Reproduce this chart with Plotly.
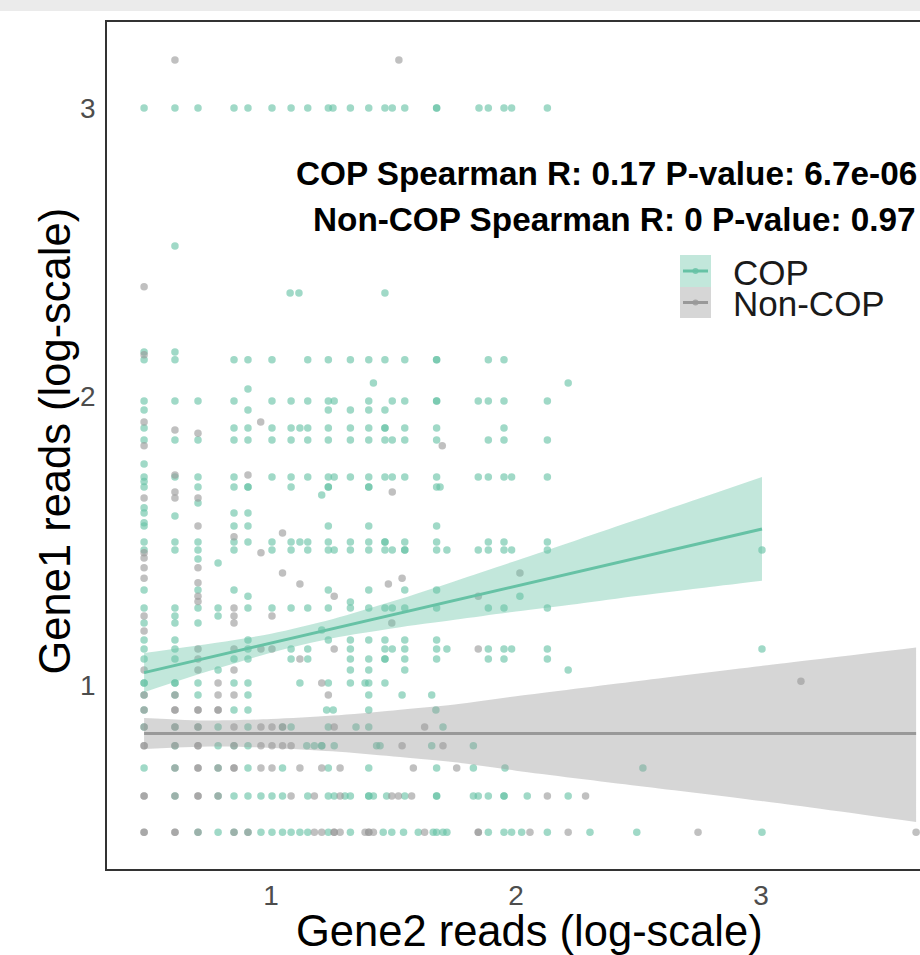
import plotly.graph_objects as go

# ---------------- data (log10 read counts) ----------------
cop_levels = [3.000, 2.522, 2.359, 2.154, 2.127, 2.047, 2.026, 1.984, 1.953, 1.891, 1.849, 1.766,
              1.721, 1.705, 1.686, 1.659, 1.631, 1.614, 1.596, 1.586, 1.562, 1.551, 1.496, 1.468,
              1.437, 1.423, 1.329, 1.308, 1.288, 1.267, 1.239, 1.215, 1.191, 1.156, 1.125, 1.090,
              1.052, 1.007, 0.965, 0.913, 0.854, 0.789, 0.712, 0.615, 0.490]
cop_xs = [
    [0.482, 0.608, 0.702, 0.849, 0.906, 1.004, 1.082, 1.150, 1.234, 1.253, 1.324, 1.399, 1.465, 1.495, 1.546, 1.676, 1.676, 1.849, 1.887, 1.951, 1.982, 2.128],
    [0.608],
    [1.078, 1.114, 1.465],
    [0.482, 0.608],
    [0.482, 0.608, 0.849, 0.906, 1.004, 1.150, 1.234, 1.324, 1.399, 1.465, 1.546, 1.676, 1.676, 1.887, 1.951],
    [1.418, 2.213],
    [0.906],
    [0.482, 0.608, 0.702, 0.849, 1.004, 1.082, 1.150, 1.234, 1.258, 1.399, 1.495, 1.546, 1.676, 1.676, 1.846, 1.887, 1.951, 2.128],
    [0.482, 0.906, 1.234, 1.324, 1.399, 1.465],
    [0.482, 0.849, 0.906, 1.004, 1.082, 1.118, 1.150, 1.234, 1.324, 1.399, 1.465, 1.465, 1.546, 1.676, 1.951],
    [0.482, 0.608, 0.702, 0.849, 0.906, 1.004, 1.082, 1.150, 1.234, 1.324, 1.399, 1.465, 1.495, 1.546, 1.676, 1.887, 1.951, 2.128],
    [0.482],
    [0.482, 0.608, 0.702, 0.849, 1.004, 1.082, 1.150, 1.234, 1.258, 1.324, 1.399, 1.465, 1.495, 1.546, 1.676, 1.846, 1.887, 1.951, 1.982, 2.128],
    [0.482],
    [0.482, 0.702, 0.849, 0.906, 0.906, 1.082, 1.234, 1.234, 1.399, 1.399, 1.676, 1.690],
    [1.207],
    [0.702],
    [0.482],
    [0.482, 0.849, 0.906],
    [0.608],
    [0.482],
    [0.482, 0.849, 0.906, 1.234, 1.399, 1.676],
    [0.482, 0.608, 0.702, 0.849, 0.906, 1.004, 1.082, 1.118, 1.150, 1.234, 1.324, 1.399, 1.465, 1.465, 1.546, 1.676, 1.887, 1.951, 2.128],
    [0.482, 0.608, 0.702, 0.849, 1.004, 1.082, 1.150, 1.234, 1.258, 1.324, 1.399, 1.465, 1.495, 1.546, 1.546, 1.676, 1.718, 1.846, 1.887, 1.951, 1.982, 2.128, 3.004],
    [0.702],
    [0.784],
    [0.482, 0.702, 0.849, 1.234, 1.399, 1.546, 1.676],
    [0.906, 2.016],
    [1.324],
    [0.482, 0.608, 0.702, 0.784, 0.906, 1.004, 1.082, 1.150, 1.234, 1.324, 1.399, 1.465, 1.495, 1.546, 1.676, 1.887, 1.951, 2.128],
    [0.608, 0.784],
    [0.482, 0.608, 0.702],
    [1.207],
    [0.482, 0.608, 0.906, 1.234, 1.324, 1.399, 1.465, 1.546, 1.676],
    [0.482, 0.608, 0.906, 1.082, 1.150, 1.324, 1.465, 1.495, 1.546, 1.676, 1.718, 1.887, 1.951, 1.982, 2.128, 3.004],
    [0.482, 0.608, 0.849, 0.906, 1.082, 1.150, 1.324, 1.399, 1.465, 1.465, 1.546, 1.676, 1.887, 1.951, 2.128],
    [0.784, 1.324, 1.399, 1.546, 2.213],
    [0.482, 0.482, 0.608, 0.608, 0.702, 0.849, 0.906, 1.118, 1.234, 1.324, 1.384, 1.399, 1.465],
    [0.482, 0.608, 0.702, 0.906, 1.399, 1.535, 1.656],
    [0.482, 0.849, 0.906, 1.227, 1.254, 1.399, 1.673],
    [0.482, 0.608, 0.702, 0.784, 0.906, 1.047, 1.082, 1.234, 1.347, 1.399, 1.702],
    [0.608, 0.784, 0.849, 0.906, 1.146, 1.177, 1.207, 1.207, 1.258, 1.431, 1.445, 1.656, 1.826],
    [0.482, 0.608, 0.784, 0.906, 1.047, 1.234, 1.399, 1.676, 1.826, 1.955, 2.518],
    [0.608, 0.784, 0.849, 0.906, 0.959, 1.004, 1.047, 1.150, 1.234, 1.258, 1.302, 1.324, 1.399, 1.399, 1.418, 1.472, 1.546, 1.676, 1.676, 1.826, 1.846, 1.887, 1.951, 1.951, 2.046, 2.213],
    [0.702, 0.784, 0.849, 0.906, 0.959, 1.004, 1.047, 1.082, 1.118, 1.150, 1.234, 1.324, 1.458, 1.493, 1.541, 1.601, 1.662, 1.676, 1.702, 1.718, 1.887, 1.951, 1.982, 2.023, 2.128, 2.302, 2.493, 3.004],
]

non_levels = [3.166, 2.380, 2.145, 1.912, 1.884, 1.873, 1.829, 1.728, 1.669, 1.648, 1.551, 1.527,
              1.514, 1.458, 1.440, 1.406, 1.388, 1.370, 1.354, 1.350, 1.308, 1.289, 1.267, 1.239,
              1.215, 1.187, 1.125, 1.090, 1.052, 1.013, 1.007, 0.965, 0.913, 0.854, 0.789, 0.712,
              0.615, 0.490]
non_xs = [
    [0.608, 1.522],
    [0.482],
    [0.482],
    [0.482, 0.958],
    [0.608],
    [0.702],
    [0.482, 1.699],
    [0.608, 0.906],
    [0.608, 1.495],
    [0.482, 0.608, 0.702],
    [0.702],
    [1.047],
    [0.849],
    [0.482, 0.959],
    [0.482],
    [0.482, 0.702],
    [1.047, 2.016],
    [0.482, 1.535],
    [0.702],
    [1.118, 1.479],
    [0.702, 1.258, 1.846],
    [0.702],
    [0.849],
    [0.482, 0.849, 1.004],
    [0.849, 1.493],
    [0.482],
    [0.702, 0.849, 0.959, 1.004, 1.258, 1.846],
    [0.702, 1.118],
    [0.482, 0.702, 0.849],
    [3.163],
    [0.784, 1.207],
    [0.482, 0.608, 0.784, 0.849, 1.234],
    [0.482, 0.608, 0.608, 0.702, 0.702, 0.784, 0.784],
    [0.482, 0.608, 0.702, 0.849, 0.959, 1.004, 1.047, 1.258, 1.627],
    [0.482, 0.482, 0.608, 0.702, 0.702, 0.849, 0.959, 1.004, 1.047, 1.082, 1.535, 1.702],
    [0.608, 0.702, 0.702, 0.784, 0.849, 0.849, 0.959, 1.004, 1.118, 1.207, 1.282, 1.581, 1.758],
    [0.482, 0.482, 0.608, 0.702, 0.702, 0.784, 1.082, 1.177, 1.282, 1.493, 1.520, 1.574, 2.128, 2.284],
    [0.482, 0.482, 0.608, 0.608, 0.702, 0.849, 0.906, 1.177, 1.207, 1.258, 1.258, 1.282, 1.384, 1.399, 1.399, 1.418, 1.627, 1.846, 1.846, 2.057, 2.213, 2.743, 3.633],
]

# linear-fit lines and 95% bands
cop_fit_x = [0.482, 0.75, 1.0, 1.25, 1.5, 1.75, 2.0, 2.25, 2.5, 2.75, 3.004]
cop_fit_y = [1.043, 1.096, 1.145, 1.195, 1.244, 1.293, 1.343, 1.392, 1.442, 1.491, 1.541]
cop_fit_lo = [0.975, 1.049, 1.112, 1.162, 1.197, 1.226, 1.255, 1.281, 1.309, 1.335, 1.361]
cop_fit_hi = [1.111, 1.143, 1.178, 1.228, 1.291, 1.360, 1.431, 1.503, 1.575, 1.647, 1.721]

non_fit_x = [0.482, 0.75, 1.0, 1.25, 1.5, 1.75, 2.0, 2.5, 3.0, 3.633]
non_fit_y = [0.832, 0.832, 0.832, 0.832, 0.832, 0.832, 0.832, 0.832, 0.832, 0.832]
non_fit_lo = [0.778, 0.787, 0.782, 0.770, 0.752, 0.732, 0.703, 0.650, 0.598, 0.525]
non_fit_hi = [0.886, 0.877, 0.882, 0.894, 0.912, 0.932, 0.961, 1.014, 1.066, 1.130]

cop_text = "COP Spearman R: 0.17 P-value: 6.7e-06"
non_text = "Non-COP Spearman R: 0 P-value: 0.97"
legend_labels = ["COP", "Non-COP"]
x_title = "Gene2 reads (log-scale)"
y_title = "Gene1 reads (log-scale)"
tick_vals = [1, 2, 3]
tick_text = ["1", "2", "3"]

# ---------------- styling / layout ----------------
COP_COL = "#66c2a5"
NON_COL = "#999999"
W, H = 920, 955
# plot box in page pixels: left 107, top 22, bottom 869, right = window edge
L, T = 107, 22
B = H - 869
R = 0
PW, PH = W - L - R, H - T - B

# axis calibration (page pixel -> data)
XPX1, XPX_UNIT = 271, 245.0
YPX1, YPX_UNIT = 685, 288.5
x_range = [1 + (L - XPX1) / XPX_UNIT, 1 + (W - XPX1) / XPX_UNIT]
y_range = [1 + (YPX1 - (H - B)) / YPX_UNIT, 1 + (YPX1 - T) / YPX_UNIT]


def px_x(px):
    # page x pixel -> paper coordinate
    return (px - L) / PW


def px_y(py):
    # page y pixel -> paper coordinate
    return (H - B - py) / PH


def flatten(levels, xs):
    fx, fy = [], []
    for lv, row in zip(levels, xs):
        for v in row:
            fx.append(v)
            fy.append(lv)
    return fx, fy


cop_x, cop_y = flatten(cop_levels, cop_xs)
non_x, non_y = flatten(non_levels, non_xs)

fig = go.Figure()
fig.add_trace(go.Scatter(x=cop_x, y=cop_y, mode="markers",
                         marker=dict(color=COP_COL, size=7.5, opacity=0.62, line=dict(width=0)),
                         showlegend=False, cliponaxis=False))
fig.add_trace(go.Scatter(x=non_x, y=non_y, mode="markers",
                         marker=dict(color=NON_COL, size=7.5, opacity=0.62, line=dict(width=0)),
                         showlegend=False, cliponaxis=False))


def add_band(xs, lo, hi, fillcol):
    fig.add_trace(go.Scatter(x=xs, y=lo, mode="lines",
                             line=dict(width=0, shape="spline", smoothing=0.8),
                             hoverinfo="skip", showlegend=False))
    fig.add_trace(go.Scatter(x=xs, y=hi, mode="lines",
                             line=dict(width=0, shape="spline", smoothing=0.8),
                             fill="tonexty", fillcolor=fillcol, hoverinfo="skip",
                             showlegend=False))


add_band(cop_fit_x, cop_fit_lo, cop_fit_hi, "rgba(102,194,165,0.4)")
fig.add_trace(go.Scatter(x=cop_fit_x, y=cop_fit_y, mode="lines",
                         line=dict(color=COP_COL, width=3), showlegend=False))
add_band(non_fit_x, non_fit_lo, non_fit_hi, "rgba(153,153,153,0.4)")
fig.add_trace(go.Scatter(x=non_fit_x, y=non_fit_y, mode="lines",
                         line=dict(color=NON_COL, width=3), showlegend=False, cliponaxis=False))

FONT = "Liberation Sans, Arial, sans-serif"
shapes = [
    # grey strip at the top of the page
    dict(type="rect", xref="paper", yref="paper", x0=px_x(0), x1=px_x(W), y0=px_y(11), y1=px_y(0),
         fillcolor="#ebebeb", line=dict(width=0), layer="below"),
    # legend keys
    dict(type="rect", xref="paper", yref="paper", x0=px_x(680), x1=px_x(711), y0=px_y(287), y1=px_y(255),
         fillcolor="rgba(102,194,165,0.4)", line=dict(width=0)),
    dict(type="rect", xref="paper", yref="paper", x0=px_x(680), x1=px_x(711), y0=px_y(318), y1=px_y(287),
         fillcolor="rgba(153,153,153,0.4)", line=dict(width=0)),
    dict(type="line", xref="paper", yref="paper", x0=px_x(683), x1=px_x(708), y0=px_y(271), y1=px_y(271),
         line=dict(color=COP_COL, width=3)),
    dict(type="line", xref="paper", yref="paper", x0=px_x(683), x1=px_x(708), y0=px_y(302.5), y1=px_y(302.5),
         line=dict(color=NON_COL, width=3)),
    dict(type="circle", xref="paper", yref="paper", x0=px_x(692.5), x1=px_x(698.5), y0=px_y(274), y1=px_y(268),
         fillcolor=COP_COL, line=dict(width=0), opacity=0.8),
    dict(type="circle", xref="paper", yref="paper", x0=px_x(692.5), x1=px_x(698.5), y0=px_y(305.5), y1=px_y(299.5),
         fillcolor=NON_COL, line=dict(width=0), opacity=0.8),
]

annotations = [
    dict(text="<b>" + cop_text + "</b>", xref="paper", yref="paper", x=px_x(919), y=px_y(173),
         xanchor="right", yanchor="middle", showarrow=False, font=dict(family=FONT, size=33.3, color="black")),
    dict(text="<b>" + non_text + "</b>", xref="paper", yref="paper", x=px_x(918), y=px_y(219),
         xanchor="right", yanchor="middle", showarrow=False, font=dict(family=FONT, size=33.3, color="black")),
    dict(text=legend_labels[0], xref="paper", yref="paper", x=px_x(731), y=px_y(272),
         xanchor="left", yanchor="middle", showarrow=False, font=dict(family=FONT, size=35, color="#1a1a1a")),
    dict(text=legend_labels[1], xref="paper", yref="paper", x=px_x(731), y=px_y(303),
         xanchor="left", yanchor="middle", showarrow=False, font=dict(family=FONT, size=35, color="#1a1a1a")),
    dict(text=x_title, xref="paper", yref="paper", x=px_x(529.5), y=px_y(931),
         xanchor="center", yanchor="middle", showarrow=False, font=dict(family=FONT, size=43.5, color="black")),
    dict(text=y_title, xref="paper", yref="paper", x=px_x(54), y=px_y(441.5), textangle=-90,
         xanchor="center", yanchor="middle", showarrow=False, font=dict(family=FONT, size=43.5, color="black")),
]

fig.update_layout(
    width=W, height=H,
    margin=dict(l=L, r=R, t=T, b=B, pad=0),
    paper_bgcolor="white", plot_bgcolor="white",
    showlegend=False,
    shapes=shapes, annotations=annotations,
    font=dict(family=FONT),
)
fig.update_xaxes(range=x_range, tickvals=tick_vals, ticktext=tick_text,
                 showgrid=False, zeroline=False, showline=True, mirror=True,
                 linecolor="#333333", linewidth=1.5,
                 ticks="outside", ticklen=1, tickcolor="rgba(0,0,0,0)",
                 tickfont=dict(family=FONT, size=28, color="#4d4d4d"))
fig.update_yaxes(range=y_range, tickvals=tick_vals, ticktext=tick_text,
                 showgrid=False, zeroline=False, showline=True, mirror=False,
                 linecolor="#333333", linewidth=1.5,
                 ticks="outside", ticklen=4, tickcolor="rgba(0,0,0,0)",
                 tickfont=dict(family=FONT, size=28, color="#4d4d4d"))

# remove the default page margin / scrollbars so the figure fills the window exactly
page_css = ("document.body.style.margin='0';"
            "document.body.style.overflow='hidden';"
            "document.documentElement.style.overflow='hidden';")
fig.write_html("out.html", post_script=page_css, config={"displayModeBar": False})
